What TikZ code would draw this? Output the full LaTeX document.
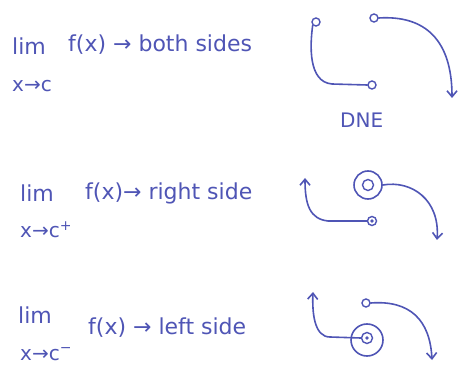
\documentclass[tikz,border=0pt]{standalone}
\usepackage{fontspec}
\setmainfont{DejaVu Sans}
\usetikzlibrary{arrows.meta}
\definecolor{ink}{HTML}{4F55B5}
\begin{document}
\begin{tikzpicture}[x=1pt,y=-1pt,
  ink/.style={color=ink, line width=1.6pt, line cap=round, line join=round},
  lbl/.style={text=ink, font=\fontsize{22}{24}\selectfont, inner sep=0pt, anchor=base west},
  sub/.style={text=ink, font=\fontsize{20}{22}\selectfont, inner sep=0pt, anchor=base west},
  opendot/.style={circle, draw=ink, line width=1.4pt, minimum size=8pt, inner sep=0pt},
  ring/.style={circle, draw=ink, line width=1.6pt, minimum size=28pt, inner sep=0pt},
  curve/.style={ink, -{Straight Barb[length=6pt,width=10pt]}},
  plain/.style={ink}]
\useasboundingbox (0,0) rectangle (466,382);
% ---------- row 1 ----------
\node[lbl] (l1) at (12,55) {lim};
\node[lbl] (f1) at (68,52) {f(x) → both sides};
\node[sub] (s1) at (12,92) {x→c};
\node[opendot] (a1) at (316,22) {};
\node[opendot] (b1) at (372,85) {};
\node[opendot] (c1) at (374,18) {};
\coordinate (e1) at (452,98);
\draw[plain] (a1.south west) .. controls (310,45) and (308,82) .. (332,84) -- (b1.west);
\draw[curve] (c1.east) .. controls (425,15) and (452,40) .. (e1);
\node[sub] (dne) at (340,128) {DNE};
% ---------- row 2 ----------
\node[lbl] (l2) at (20,202) {lim};
\node[lbl] (f2) at (85,200) {f(x)→ right side};
\node[sub] (s2) at (20,238) {x→c\textsuperscript{+}};
\node[ring] (r2) at (368,185) {};
\node[opendot, minimum size=11pt] (o2) at (368,185) {};
\node[circle, draw=ink, line width=1.4pt, minimum size=9pt, inner sep=0pt] (d2) at (372,221) {};
\fill[ink] (d2) circle (1.8pt);
\coordinate (u2) at (305,178);
\coordinate (e2) at (437,240);
\draw[curve] (d2.west) -- (328,221) .. controls (310,219) and (305,205) .. (u2);
\draw[curve] (r2.east) .. controls (412,180) and (440,200) .. (e2);
% ---------- row 3 ----------
\node[lbl] (l3) at (18,323) {lim};
\node[lbl] (f3) at (88,334) {f(x) → left side};
\node[sub] (s3) at (20,360) {x→c\textsuperscript{−}};
\node[ring, minimum size=32pt] (r3) at (367,340) {};
\node[opendot, minimum size=11pt] (o3) at (367,338) {};
\fill[ink] (o3) circle (1.8pt);
\node[opendot] (c3) at (366,303) {};
\coordinate (u3) at (313,292);
\coordinate (e3) at (432,360);
\draw[curve] (o3.west) -- (330,337) .. controls (315,337) and (312,315) .. (u3);
\draw[curve] (c3.east) .. controls (410,300) and (430,320) .. (e3);
\end{tikzpicture}
\end{document}
